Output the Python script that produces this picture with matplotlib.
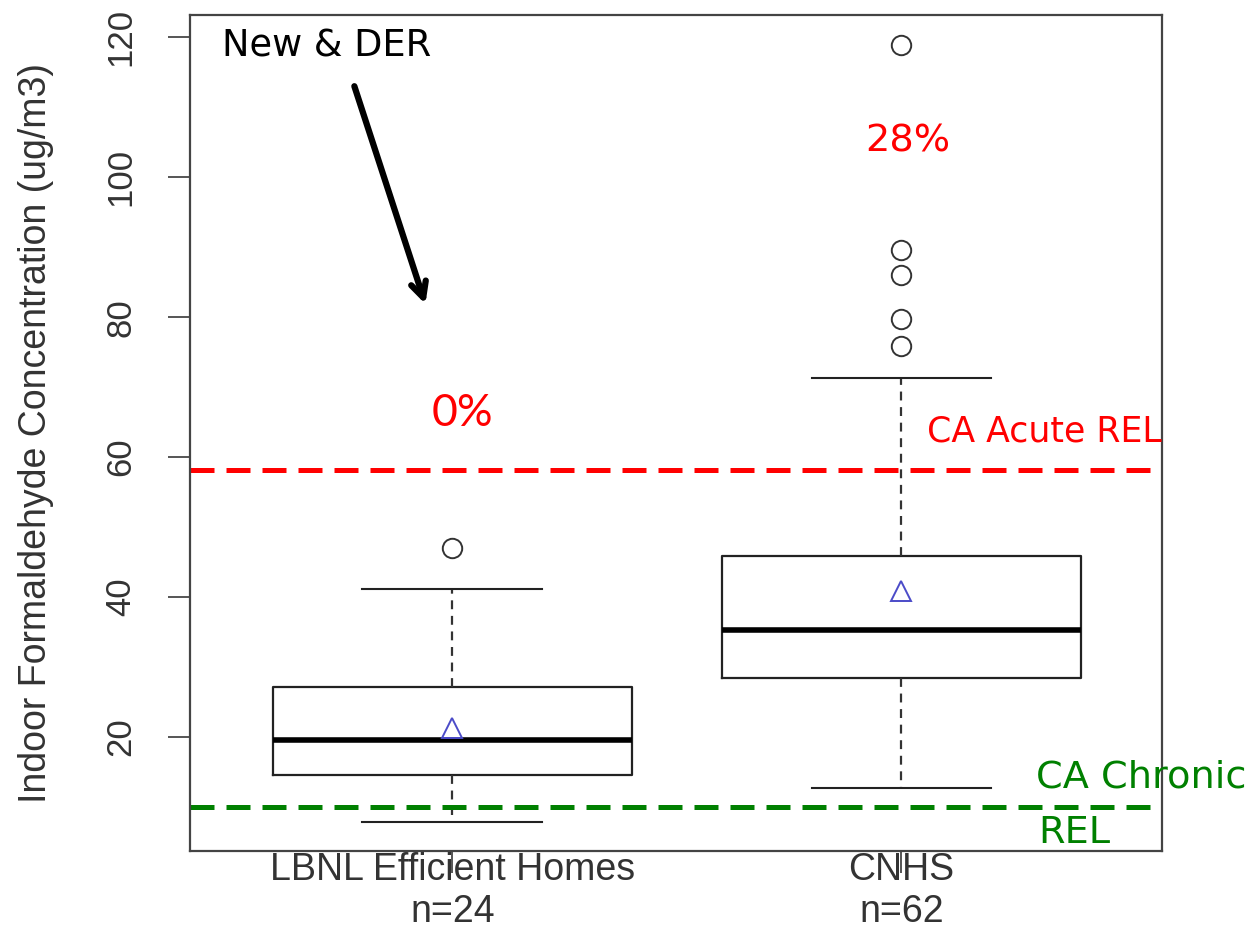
import matplotlib
matplotlib.use("Agg")
import matplotlib.pyplot as plt

# Summary statistics of indoor formaldehyde (ug/m3) per study
groups = ["LBNL Efficient Homes", "CNHS"]
sample_sizes = [24, 62]
whisker_low = [7.9, 12.7]
quartile_1 = [14.5, 28.4]
medians = [19.6, 35.3]
quartile_3 = [27.2, 45.9]
whisker_high = [41.1, 71.3]
means = [21.3, 40.9]
outliers = [[47.0], [75.9, 79.8, 86.0, 89.6, 118.9]]

# Reference exposure levels (ug/m3)
acute_rel = 58.2
chronic_rel = 10.0
share_above_acute = ["0%", "28%"]

plt.rcParams["font.family"] = ["Liberation Sans", "DejaVu Sans"]

fig = plt.figure(figsize=(12.54, 9.34), dpi=100)
ax = fig.add_axes([190 / 1254, 1 - 851 / 934, 972 / 1254, 836 / 934])

stats = []
for i, g in enumerate(groups):
    stats.append(dict(
        label=f"{g}\nn={sample_sizes[i]}",
        whislo=whisker_low[i], q1=quartile_1[i], med=medians[i],
        q3=quartile_3[i], whishi=whisker_high[i], mean=means[i],
        fliers=outliers[i],
    ))

ax.bxp(
    stats, positions=[1, 2], widths=0.8, showmeans=True,
    boxprops=dict(color="#222222", linewidth=1.6),
    medianprops=dict(color="black", linewidth=4.0),
    whiskerprops=dict(color="#333333", linewidth=1.6, linestyle=(0, (4, 3))),
    capprops=dict(color="#222222", linewidth=1.5),
    capwidths=0.4,
    flierprops=dict(marker="o", markersize=14, markerfacecolor="none",
                    markeredgecolor="#333333", markeredgewidth=1.4),
    meanprops=dict(marker="^", markersize=15, markerfacecolor="none",
                   markeredgecolor="#4b4bc8", markeredgewidth=1.4),
)

# Reference exposure level lines
ax.axhline(acute_rel, color="#ff0000", linewidth=3.6, linestyle=(0, (4.8, 2.4)))
ax.axhline(chronic_rel, color="#008000", linewidth=3.6, linestyle=(0, (4.8, 2.4)))

ax.set_xlim(0.416, 2.58)
ax.set_ylim(3.7, 123.2)
ax.set_yticks([20, 40, 60, 80, 100, 120])

for s in ax.spines.values():
    s.set_color("#444444")
    s.set_linewidth(1.6)

ax.tick_params(axis="y", length=16, width=1.4, color="#555555", pad=22,
               labelsize=25, labelcolor="#333333", labelrotation=90)
for lbl in ax.get_yticklabels():
    lbl.set_va("center")
ax.tick_params(axis="x", length=16, width=1.4, color="#555555", pad=-15,
               labelsize=27, labelcolor="#333333")
for lbl in ax.get_xticklabels():
    lbl.set_linespacing(1.2)

ax.set_ylabel("Indoor Formaldehyde Concentration (ug/m3)", fontsize=27,
              color="#333333", va="center", ha="center")
ax.yaxis.set_label_coords(-0.158, 0.5)

# Annotations
ann_font = ["DejaVu Sans"]
ax.text(0.487, 118.8, "New & DER", fontsize=26.5, family=ann_font,
        color="black", ha="left", va="center")
ax.annotate("", xy=(0.942, 81.5), xytext=(0.78, 113.4),
            arrowprops=dict(arrowstyle="->,head_length=1.1,head_width=0.55",
                            color="black", linewidth=4.5))
ax.text(1.022, 66.3, share_above_acute[0], fontsize=32, family=["Lato", "DejaVu Sans"],
        color="#ff0000", ha="center", va="center")
ax.text(2.013, 105.1, share_above_acute[1], fontsize=27.5, family=ann_font,
        color="#ff0000", ha="center", va="center")
ax.text(2.056, 63.7, "CA Acute REL", fontsize=25, family=ann_font,
        color="#ff0000", ha="left", va="center")
ax.text(2.3, 14.2, "CA Chronic", fontsize=27.5, family=ann_font,
        color="#008000", ha="left", va="center", clip_on=False)
ax.text(2.304, 6.3, "REL", fontsize=27.5, family=ann_font,
        color="#008000", ha="left", va="center", clip_on=False)

fig.savefig("out.png", dpi=100)
